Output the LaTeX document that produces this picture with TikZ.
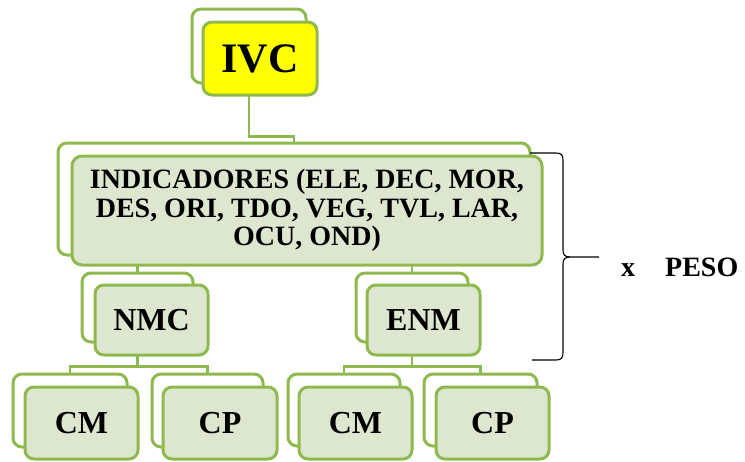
\documentclass[tikz,border=0pt]{standalone}
\usepackage{fontspec}
\setmainfont{Liberation Serif}
\definecolor{grn}{HTML}{8FB84F}
\definecolor{lgrn}{HTML}{DDE7D0}
\definecolor{ylw}{HTML}{FFFF00}
\tikzset{
  backbox/.style={draw=grn, line width=3pt, fill=white, rounded corners=9pt, inner sep=0pt},
  frontbox/.style={draw=grn, line width=3pt, fill=lgrn, rounded corners=9pt, inner sep=0pt, font=\bfseries\fontsize{32}{32}\selectfont},
  conn/.style={draw=grn, line width=2.8pt},
  bracestyle/.style={draw=black, line width=1.1pt},
  lbl/.style={inner sep=0pt, font=\bfseries\fontsize{28}{28}\selectfont}
}
\begin{document}
\begin{tikzpicture}[x=1pt,y=-1pt]
\useasboundingbox (0,0) rectangle (745,461);
% back frames
\node[backbox, minimum width=114pt, minimum height=74pt] (ivcB) at (249,46) {};
\node[backbox, minimum width=472pt, minimum height=112pt] (indB) at (294,199) {};
\node[backbox, minimum width=111pt, minimum height=69pt] (nmcB) at (137.5,307.5) {};
\node[backbox, minimum width=112pt, minimum height=69pt] (enmB) at (412,307.5) {};
\node[backbox, minimum width=114pt, minimum height=73pt] (cmaB) at (70,410.5) {};
\node[backbox, minimum width=111pt, minimum height=73pt] (cpaB) at (207.5,410.5) {};
\node[backbox, minimum width=112pt, minimum height=72pt] (cmbB) at (344,410) {};
\node[backbox, minimum width=113pt, minimum height=72pt] (cpbB) at (480.5,410) {};
% connectors
\draw[conn] (ivcB.south) -- ++(0,52) -| (indB.north);
\draw[conn] (indB.south) -- ++(0,5) -| (nmcB.north);
\draw[conn] (indB.south) -- ++(0,5) -| (enmB.north);
\draw[conn] (nmcB.south) -- ++(0,23) -| (cmaB.north);
\draw[conn] (nmcB.south) -- ++(0,23) -| (cpaB.north);
\draw[conn] (enmB.south) -- ++(0,23) -| (cmbB.north);
\draw[conn] (enmB.south) -- ++(0,23) -| (cpbB.north);
% front boxes
\node[frontbox, fill=ylw, minimum width=114pt, minimum height=73pt, font=\bfseries\fontsize{42}{42}\selectfont] (ivc) at (260,58.5) {IVC};
\node[frontbox, rounded corners=10pt, minimum width=470pt, minimum height=109pt, align=center, font=\bfseries\fontsize{28}{28.5}\selectfont] (ind) at (307,210.5) {INDICADORES (ELE, DEC, MOR,\\DES, ORI, TDO, VEG, TVL, LAR,\\OCU, OND)};
\node[frontbox, minimum width=113pt, minimum height=70pt] (nmc) at (151.5,320) {NMC};
\node[frontbox, minimum width=113pt, minimum height=70pt] (enm) at (423.5,320) {ENM};
\node[frontbox, minimum width=113pt, minimum height=72pt] (cma) at (81.5,423) {CM};
\node[frontbox, minimum width=114pt, minimum height=72pt] (cpa) at (220,423) {CP};
\node[frontbox, minimum width=113pt, minimum height=72pt] (cmb) at (355.5,423) {CM};
\node[frontbox, minimum width=113pt, minimum height=72pt] (cpb) at (492.5,423) {CP};
% brace
\coordinate (brTop) at (530,153);
\coordinate (brTip) at (599,257);
\coordinate (brBot) at (532,360);
\draw[bracestyle] (brTop) -- (556,153) .. controls (561,153) and (563,155) .. (563,160) -- (563,250) .. controls (563,255) and (565,257) .. (570,257) -- (brTip);
\draw[bracestyle] (570,257) .. controls (565,257) and (563,259) .. (563,264) -- (563,353) .. controls (563,358) and (561,360) .. (556,360) -- (brBot);
% label
\node[lbl, anchor=base] (xlbl) at (628,276) {x};
\node[lbl, anchor=base west] (peso) at (665,276) {PESO};
\end{tikzpicture}
\end{document}
